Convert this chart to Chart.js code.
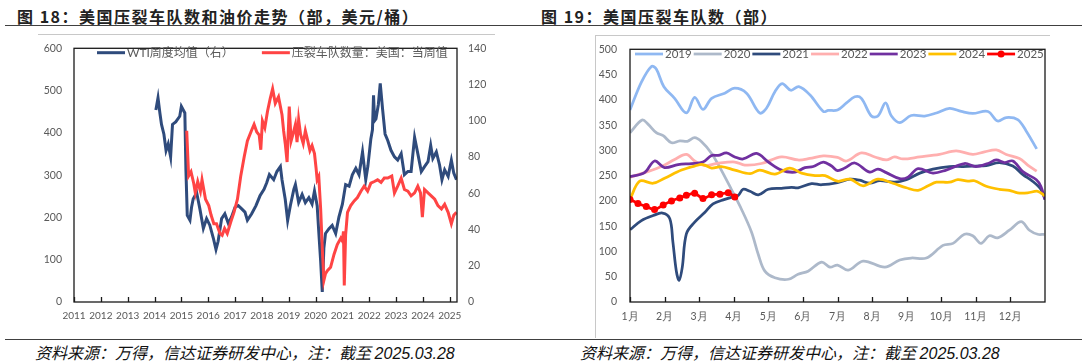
<!DOCTYPE html>
<html>
<head>
<meta charset="utf-8">
<script src="https://cdn.jsdelivr.net/npm/chart.js@4.4.1/dist/chart.umd.min.js"></script>
<style>
body{margin:0;width:1088px;height:363px;background:#fff;position:relative;overflow:hidden;font-family:"Noto Sans CJK SC",sans-serif;}
.title{position:absolute;top:6px;font-size:16px;font-weight:bold;color:#222;letter-spacing:1.5px;white-space:nowrap;line-height:20px;}
.rule{position:absolute;height:0;border-top:1.5px solid #404040;}
.gray{position:absolute;background:#c8c8c8;}
.src{position:absolute;top:342px;font-size:16px;font-style:italic;color:#111;white-space:nowrap;line-height:20px;}
canvas{position:absolute;top:30px;}
</style>
</head>
<body>
<div class="title" style="left:17px">图 18：美国压裂车队数和油价走势（部，美元/桶）</div>
<div class="title" style="left:541px">图 19：美国压裂车队数（部）</div>
<div class="rule" style="left:5px;top:25px;width:1077px"></div>
<div class="gray" style="left:38px;top:34px;width:457px;height:1px"></div>
<div class="gray" style="left:595px;top:35px;width:455px;height:1px"></div>
<div class="gray" style="left:595px;top:35px;width:1px;height:303px"></div>
<div class="rule" style="left:5px;top:339px;width:1077px"></div>
<div class="src" style="left:35px">资料来源：万得，信达证券研发中心，注：截至 <span style="font-family:'Liberation Sans'">2025.03.28</span></div>
<div class="src" style="left:580px">资料来源：万得，信达证券研发中心，注：截至 <span style="font-family:'Liberation Sans'">2025.03.28</span></div>
<canvas id="left" width="544" height="300" style="left:0"></canvas>
<canvas id="right" width="544" height="300" style="left:544px"></canvas>
<script>
// 图18 年份刻度
const yearTicks = [2011, 2012, 2013, 2014, 2015, 2016, 2017, 2018, 2019, 2020, 2021, 2022, 2023, 2024, 2025];
// WTI 周度均值（美元/桶，右轴） [年份, 值]
const wti = [[2014.05,106],[2014.13,112.7],[2014.2,104.3],[2014.26,98],[2014.35,92.6],[2014.43,83.6],[2014.51,87.2],[2014.6,80.1],[2014.67,98],[2014.79,99.4],[2014.94,102.5],[2015.0,107.9],[2015.13,104.3],[2015.17,72.9],[2015.22,47.8],[2015.32,45.1],[2015.38,52.3],[2015.44,56.8],[2015.57,60.4],[2015.69,51.4],[2015.82,40.6],[2015.94,46],[2016.06,42.4],[2016.19,35.3],[2016.29,29],[2016.37,33.5],[2016.5,46],[2016.62,48.7],[2016.75,43.3],[2016.87,46.9],[2017.0,52.3],[2017.12,53.2],[2017.25,51.4],[2017.37,49.6],[2017.46,45.1],[2017.62,48.7],[2017.78,53.2],[2017.93,58.6],[2018.08,62.2],[2018.18,65.8],[2018.28,70.3],[2018.44,67.5],[2018.56,72],[2018.69,74.7],[2018.75,67.5],[2018.87,56.7],[2018.96,45],[2019.06,53.1],[2019.19,62.1],[2019.25,64.8],[2019.37,54.9],[2019.5,59.4],[2019.62,54.9],[2019.75,57.6],[2019.87,54],[2019.96,61.2],[2020.06,53.1],[2020.12,38.7],[2020.19,22.5],[2020.25,5.6],[2020.31,29.8],[2020.37,37.8],[2020.5,40.5],[2020.62,42.3],[2020.75,37.8],[2020.87,46.8],[2021.0,54],[2021.12,64.8],[2021.25,63.9],[2021.37,70.2],[2021.5,73.8],[2021.62,70.2],[2021.75,82.8],[2021.87,67.5],[2021.95,75],[2022.06,90],[2022.12,95],[2022.16,114],[2022.2,100],[2022.25,101],[2022.34,109],[2022.41,120.6],[2022.5,106],[2022.59,92.7],[2022.69,89.1],[2022.81,83.7],[2022.94,80.1],[2023.06,78.3],[2023.19,81.9],[2023.31,70.2],[2023.44,72],[2023.56,72],[2023.69,90.9],[2023.81,81.9],[2023.94,72],[2024.06,74.7],[2024.19,77.4],[2024.29,86.4],[2024.37,79.2],[2024.5,82.8],[2024.62,75.6],[2024.71,67.5],[2024.81,72.9],[2024.94,69.3],[2025.06,78.3],[2025.15,71.1],[2025.25,67.5]];
// 压裂车队数量：美国：当周值（部，左轴） [年份, 值]
const frac = [[2015.2,405],[2015.27,298],[2015.36,308],[2015.46,281],[2015.52,258],[2015.61,285],[2015.71,262],[2015.77,289],[2015.9,243],[2016.02,228],[2016.11,205],[2016.21,185],[2016.31,185],[2016.44,162],[2016.52,158],[2016.61,174],[2016.71,162],[2016.84,189],[2016.96,212],[2017.09,243],[2017.21,297],[2017.34,343],[2017.46,381],[2017.61,405],[2017.71,420],[2017.81,402],[2017.9,395],[2017.96,360],[2018.02,428],[2018.11,412],[2018.21,451],[2018.31,481],[2018.4,504],[2018.5,470],[2018.62,485],[2018.75,443],[2018.81,405],[2018.87,375],[2018.94,331],[2019.02,462],[2019.09,381],[2019.16,397],[2019.25,420],[2019.31,378],[2019.37,431],[2019.44,397],[2019.54,375],[2019.62,405],[2019.71,381],[2019.79,358],[2019.87,370],[2019.96,351],[2020.02,316],[2020.06,289],[2020.12,297],[2020.19,220],[2020.25,128],[2020.31,51],[2020.37,67],[2020.44,74],[2020.56,82],[2020.69,113],[2020.81,136],[2020.94,151],[2021.0,144],[2021.04,167],[2021.07,39],[2021.12,159],[2021.19,212],[2021.31,228],[2021.44,239],[2021.56,247],[2021.69,262],[2021.81,274],[2021.94,262],[2022.06,281],[2022.19,285],[2022.31,289],[2022.44,283],[2022.56,293],[2022.69,293],[2022.84,298],[2022.94,258],[2023.06,274],[2023.19,293],[2023.31,266],[2023.44,262],[2023.56,251],[2023.69,258],[2023.81,274],[2023.91,258],[2023.98,201],[2024.06,266],[2024.19,258],[2024.31,251],[2024.44,243],[2024.56,228],[2024.69,220],[2024.81,231],[2024.94,212],[2025.06,185],[2025.15,205],[2025.25,212]];

// 图19 月份刻度
const monthLabels = ['1月','2月','3月','4月','5月','6月','7月','8月','9月','10月','11月','12月'];
const years = ['2019','2020','2021','2022','2023','2024','2025'];
// 各年压裂车队数 [月份位置, 值]
const s2019 = [[0,380],[0.33,435],[0.62,466],[0.76,461],[0.98,426],[1.29,403],[1.63,374],[1.87,405],[2.11,381],[2.36,403],[2.74,413],[3.03,423],[3.37,413],[3.75,374],[3.95,384],[4.19,416],[4.4,432],[4.65,419],[4.88,426],[5.2,410],[5.59,377],[5.73,379],[6.0,380],[6.26,394],[6.5,406],[6.69,403],[6.98,368],[7.17,368],[7.39,394],[7.56,368],[7.8,355],[8.13,369],[8.52,368],[8.86,374],[9.24,383],[9.58,377],[9.91,373],[10.35,377],[10.63,358],[10.88,365],[11.21,361],[11.45,339],[11.76,303]];
const s2020 = [[0,335],[0.35,360],[0.52,352],[0.76,335],[0.96,329],[1.2,315],[1.44,319],[1.66,318],[1.87,325],[2.07,317],[2.36,294],[2.64,261],[2.93,223],[3.22,184],[3.51,139],[3.71,94],[3.9,61],[4.19,48],[4.58,45],[4.86,55],[5.15,61],[5.54,79],[5.78,69],[6.0,73],[6.31,63],[6.74,81],[7.37,69],[7.8,83],[8.13,87],[8.57,87],[9.05,112],[9.34,116],[9.67,134],[9.91,131],[10.15,116],[10.39,131],[10.63,127],[10.97,142],[11.31,159],[11.55,142],[11.79,134],[11.98,134]];
const s2021 = [[0,143],[0.33,161],[0.67,171],[0.94,176],[1.15,165],[1.24,119],[1.34,61],[1.42,43],[1.51,68],[1.63,135],[1.87,158],[2.16,177],[2.4,194],[2.74,203],[2.98,208],[3.13,211],[3.27,223],[3.47,219],[3.71,212],[4.0,223],[4.38,225],[4.67,227],[4.86,226],[5.25,234],[5.54,232],[6.0,236],[6.36,243],[6.64,241],[6.93,235],[7.22,240],[7.65,237],[7.99,242],[8.38,255],[8.76,263],[9.24,268],[9.63,268],[10.0,269],[10.3,270],[10.68,276],[11.07,269],[11.36,252],[11.64,239],[11.88,223],[12.0,203]];
const s2022 = [[0,247],[0.42,256],[0.91,268],[1.29,282],[1.63,292],[1.87,279],[2.16,270],[2.5,274],[3.03,277],[3.32,271],[3.8,274],[4.38,287],[4.86,281],[5.2,284],[5.59,289],[6.0,286],[6.26,279],[6.69,295],[7.08,287],[7.41,281],[7.65,287],[7.89,283],[8.38,287],[8.95,292],[9.43,299],[9.91,292],[10.25,297],[10.59,301],[10.88,292],[11.26,284],[11.5,271],[11.76,259]];
const s2023 = [[0,248],[0.42,256],[0.71,279],[1.0,266],[1.39,272],[1.78,274],[2.11,277],[2.36,290],[2.55,290],[2.79,295],[3.03,287],[3.27,283],[3.66,294],[4.0,277],[4.38,261],[4.77,257],[5.06,266],[5.3,268],[5.59,277],[5.83,269],[6.0,260],[6.21,265],[6.5,275],[6.93,257],[7.17,263],[7.41,256],[7.8,244],[8.04,247],[8.33,264],[8.76,255],[9.14,261],[9.67,274],[10.0,268],[10.35,274],[10.59,281],[10.83,276],[11.07,279],[11.36,258],[11.75,242],[11.88,229],[12.0,203]];
const s2024 = [[0,203],[0.28,239],[0.67,235],[1.0,245],[1.49,261],[1.87,269],[2.11,272],[2.36,265],[2.64,268],[3.03,261],[3.47,254],[3.75,261],[4.19,253],[4.62,265],[4.96,255],[5.35,250],[5.64,250],[6.0,239],[6.36,243],[6.74,230],[7.17,243],[7.6,235],[7.99,226],[8.33,221],[8.62,230],[8.86,237],[9.24,237],[9.48,242],[9.77,239],[9.96,240],[10.3,229],[10.68,223],[10.97,221],[11.21,216],[11.5,216],[11.79,219],[12.0,210]];
const s2025 = [[0,203],[0.23,195],[0.47,189],[0.71,183],[0.96,192],[1.2,200],[1.44,206],[1.63,211],[1.87,215],[2.11,205],[2.36,212],[2.6,213],[2.84,216],[3.03,208]];
const yearSeries = [s2019, s2020, s2021, s2022, s2023, s2024, s2025];
const yearColors = ['#8FB8F2', '#ADB9CA', '#2F4B7C', '#FFAFAF', '#7030A0', '#FFC000', '#FF0000'];

const toXY = arr => arr.map(p => ({ x: p[0], y: p[1] }));
const tickFont = { family: 'Lato', size: 10.5 };
const tickColor = '#595959';

// 图框 + 底部向内的刻度线
const boxPlugin = {
  id: 'box',
  afterDatasetsDraw(chart) {
    const { ctx, chartArea: a } = chart;
    const xs = chart.scales.x;
    ctx.save();
    ctx.strokeStyle = '#1a1a1a';
    ctx.lineWidth = 1.3;
    ctx.strokeRect(a.left, a.top, a.right - a.left, a.bottom - a.top);
    ctx.beginPath();
    xs.ticks.forEach(t => {
      const px = Math.round(xs.getPixelForValue(t.value)) + 0.5;
      ctx.moveTo(px, a.bottom);
      ctx.lineTo(px, a.bottom - 5);
    });
    ctx.stroke();
    ctx.restore();
  }
};

// 图内图例
function inLegend(x0, y, lineLen, itemGap, fontSize) {
  return {
    id: 'inLegend',
    afterDraw(chart) {
      const ctx = chart.ctx;
      ctx.save();
      ctx.font = fontSize + 'px Lato, "Noto Sans CJK SC"';
      ctx.textBaseline = 'middle';
      let x = x0;
      chart.data.datasets.forEach(ds => {
        ctx.strokeStyle = ds.borderColor;
        ctx.lineWidth = ds.borderWidth;
        ctx.beginPath();
        ctx.moveTo(x, y);
        ctx.lineTo(x + lineLen, y);
        ctx.stroke();
        if (ds.pointRadius > 0) {
          ctx.fillStyle = ds.borderColor;
          ctx.beginPath();
          ctx.arc(x + lineLen / 2, y, ds.pointRadius, 0, Math.PI * 2);
          ctx.fill();
        }
        x += lineLen + 2;
        ctx.fillStyle = tickColor;
        ctx.fillText(ds.label, x, y);
        x += ctx.measureText(ds.label).width + itemGap;
      });
      ctx.restore();
    }
  };
}

new Chart(document.getElementById('left'), {
  type: 'line',
  data: {
    datasets: [{
      label: 'WTI周度均值（右）',
      data: toXY(wti),
      yAxisID: 'y1',
      borderColor: '#2F4B7C',
      borderWidth: 3,
      pointRadius: 0,
      order: 1
    }, {
      label: '压裂车队数量：美国：当周值',
      data: toXY(frac),
      yAxisID: 'y',
      borderColor: '#FF4444',
      borderWidth: 3,
      pointRadius: 0,
      order: 0
    }]
  },
  options: {
    responsive: false,
    animation: false,
    layout: { padding: { top: 12, left: 0, right: 0, bottom: 0 }, autoPadding: false },
    plugins: { legend: { display: false }, tooltip: { enabled: false } },
    scales: {
      x: {
        type: 'linear', min: 2011, max: 2025.27,
        afterBuildTicks: s => { s.ticks = yearTicks.map(v => ({ value: v })); },
        afterFit: s => { s.height = 28; },
        grid: { display: false, drawTicks: false },
        border: { display: false },
        ticks: { padding: 8, color: tickColor, font: { family: 'Lato', size: 10 }, maxRotation: 0, autoSkip: false, callback: v => String(v) }
      },
      y: {
        position: 'left', min: 0, max: 600,
        afterFit: s => { s.width = 74; },
        grid: { display: false, drawTicks: false },
        border: { display: false },
        ticks: { stepSize: 100, padding: 12, color: tickColor, font: tickFont }
      },
      y1: {
        position: 'right', min: 0, max: 140,
        afterFit: s => { s.width = 87; },
        grid: { display: false, drawTicks: false },
        border: { display: false },
        ticks: { stepSize: 20, padding: 11, color: tickColor, font: tickFont }
      }
    }
  },
  plugins: [boxPlugin, inLegend(97, 22.7, 28, 28, 12)]
});

new Chart(document.getElementById('right'), {
  type: 'line',
  data: {
    datasets: years.map((yr, i) => ({
      label: yr,
      data: toXY(yearSeries[i]),
      borderColor: yearColors[i],
      backgroundColor: yearColors[i],
      borderWidth: 2.75,
      tension: 0.35,
      pointRadius: yr === '2025' ? 3.5 : 0,
      pointBorderWidth: 0,
      order: years.length - 1 - i
    }))
  },
  options: {
    responsive: false,
    animation: false,
    layout: { padding: { top: 12, left: 0, right: 43, bottom: 0 }, autoPadding: false },
    plugins: { legend: { display: false }, tooltip: { enabled: false } },
    scales: {
      x: {
        type: 'linear', min: 0, max: 12,
        afterBuildTicks: s => { s.ticks = monthLabels.map((m, i) => ({ value: i })); },
        afterFit: s => { s.height = 28; },
        grid: { display: false, drawTicks: false },
        border: { display: false },
        ticks: { padding: 8, color: tickColor, font: tickFont, maxRotation: 0, autoSkip: false, callback: v => monthLabels[v] }
      },
      y: {
        position: 'left', min: 0, max: 500,
        afterFit: s => { s.width = 86; },
        grid: { display: false, drawTicks: false },
        border: { display: false },
        ticks: { stepSize: 50, padding: 13, color: tickColor, font: tickFont }
      }
    }
  },
  plugins: [boxPlugin, inLegend(91, 24, 28, 2, 11.5)]
});
</script>
</body>
</html>
